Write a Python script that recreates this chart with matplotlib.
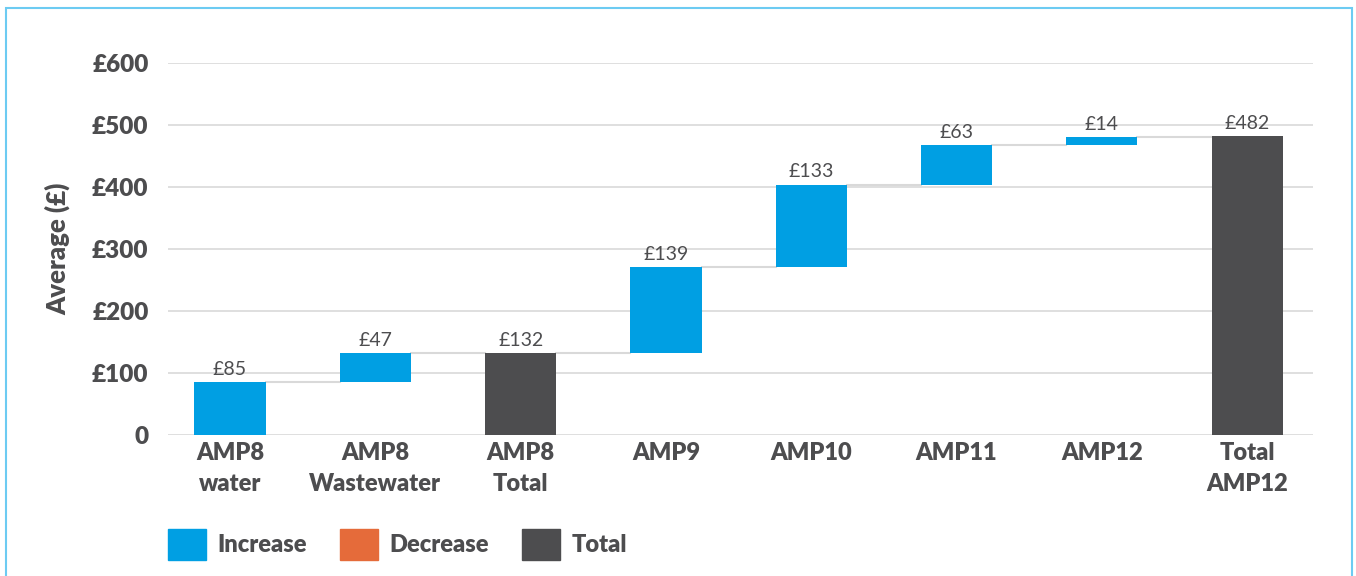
import numpy as np
import matplotlib.pyplot as plt
from matplotlib.patches import Patch, Rectangle

# Data
categories = ["AMP8\nwater", "AMP8\nWastewater", "AMP8\nTotal", "AMP9",
              "AMP10", "AMP11", "AMP12", "Total\nAMP12"]
values = [85, 47, 132, 139, 133, 63, 14, 482]
is_total = [False, False, True, False, False, False, False, True]
yticks = [0, 100, 200, 300, 400, 500, 600]
ytick_labels = ["0", "£100", "£200", "£300", "£400", "£500", "£600"]

blue = "#009FE3"
orange = "#E56B3A"
dark = "#4D4D4F"
text_col = "#4D4D4F"
grid_col = "#D9D9D9"

plt.rcParams['font.family'] = ['Lato', 'DejaVu Sans']

fig = plt.figure(figsize=(13.56, 5.76), dpi=100)
ax = fig.add_axes([0.1239, 0.2448, 0.8444, 0.6458])

# compute bottoms and tops
bottoms, tops = [], []
running = 0
for v, t in zip(values, is_total):
    if t:
        bottoms.append(0)
        running = v
    else:
        bottoms.append(running)
        running += v
    tops.append(running)

x = np.arange(len(categories))
width = 0.49
colors = [dark if t else blue for t in is_total]
ax.bar(x, values, bottom=bottoms, width=width, color=colors, zorder=3)

# connectors
for i in range(len(x) - 1):
    ax.plot([x[i] + width / 2, x[i + 1] - width / 2], [tops[i], tops[i]],
            color=grid_col, lw=1.5, zorder=2)

# value labels
for xi, top, v in zip(x, tops, values):
    ax.annotate(f"£{v}", (xi, top), xytext=(0, 3), textcoords="offset points",
                ha="center", va="bottom", fontsize=14, color=text_col)

ax.set_ylim(0, 600)
ax.set_xlim(-0.427, 7.453)
ax.set_yticks(yticks)
ax.set_yticklabels(ytick_labels, fontsize=17.5, fontweight="heavy", color=text_col)
ax.set_xticks(x)
ax.set_xticklabels(categories, fontsize=17, fontweight="heavy", color=text_col,
                   linespacing=1.5)
ax.tick_params(axis="both", length=0)
ax.tick_params(axis="y", pad=14)
ax.tick_params(axis="x", pad=5)
ax.yaxis.grid(True, color=grid_col, lw=1.2, zorder=0)
ax.set_axisbelow(True)
for s in ax.spines.values():
    s.set_visible(False)
ax.set_ylabel("Average (£)", fontsize=18.5, fontweight="heavy", color=text_col,
              labelpad=16)

handles = [Patch(color=blue, label="Increase"),
           Patch(color=orange, label="Decrease"),
           Patch(color=dark, label="Total")]
leg = fig.legend(handles=handles, loc="upper left", bbox_to_anchor=(0.117, 0.098),
                 ncol=3, frameon=False, fontsize=17, handlelength=1.6,
                 handleheight=1.65, handletextpad=0.5, columnspacing=1.4,
                 borderaxespad=0)
for t in leg.get_texts():
    t.set_fontweight("heavy")
    t.set_color(text_col)

# light blue frame around the chart
fig.patches.append(Rectangle((6 / 1356, -0.1), 1346 / 1356, 1.1 - 8 / 576,
                             transform=fig.transFigure, fill=False,
                             edgecolor="#6CCBF2", lw=1.5))

plt.savefig("out.png", dpi=100)
plt.close()
